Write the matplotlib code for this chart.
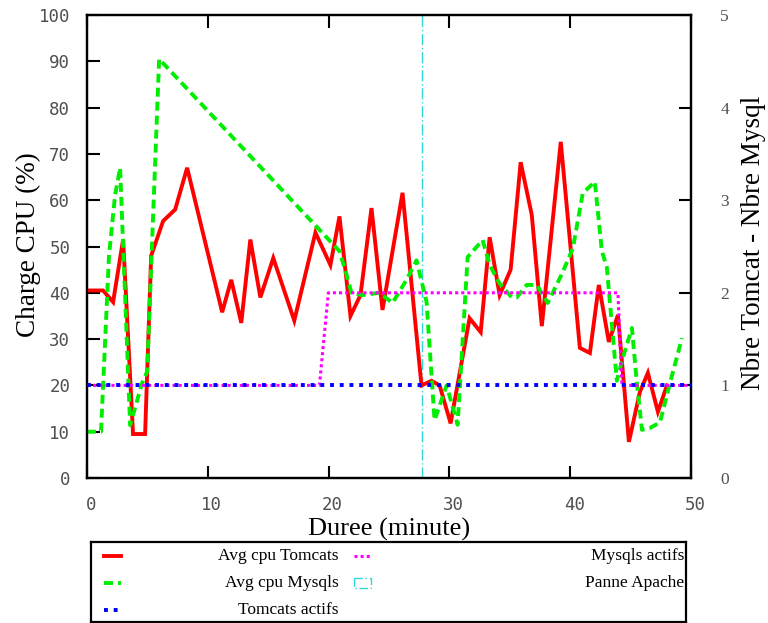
import matplotlib
matplotlib.use("Agg")
import matplotlib.pyplot as plt
import matplotlib.transforms as mtransforms
from matplotlib.lines import Line2D
from matplotlib.patches import Rectangle

# ---- data ----
tomcat_x = [0, 1.33, 2.16, 2.99, 3.81, 4.81, 5.31, 6.30, 7.30, 8.29, 11.19, 11.94, 12.77,
            13.52, 14.35, 15.42, 17.16, 18.91, 20.15, 20.90, 21.81, 22.64, 23.55, 24.46,
            26.12, 27.69, 28.52, 29.19, 30.10, 31.67, 32.59, 33.33, 34.16, 35.07, 35.90,
            36.82, 37.65, 39.22, 40.80, 41.63, 42.37, 43.20, 43.95, 44.86, 45.77, 46.43,
            47.26, 48.01]
tomcat_cpu = [40.5, 40.5, 38, 51.5, 9.5, 9.5, 48, 55.5, 58, 67, 35.8, 42.8, 33.5,
              51.5, 39, 47.5, 34, 53, 46, 56.5, 35, 39.5, 58.3, 36.3,
              61.6, 20, 21, 20, 11.8, 34.5, 31.5, 52, 39.5, 45, 68.2,
              56.8, 32.8, 72.6, 28.1, 27, 41.7, 29.4, 35.2, 7.8, 18.6, 22.7,
              14.3, 20]

mysql_x = [0, 1.16, 1.82, 2.32, 2.74, 3.57, 4.56, 4.98, 5.97, 20.90, 21.48, 21.89, 22.80,
           24.21, 25.29, 26.45, 27.28, 28.11, 28.77, 29.77, 30.68, 31.51, 32.75, 33.33,
           34.16, 35.16, 35.57, 36.40, 37.23, 38.14, 39.30, 40.22, 41.04, 42.04, 42.62,
           43.03, 43.86, 44.36, 45.11, 45.52, 45.94, 46.60, 47.43, 48.26, 49.25]
mysql_cpu = [10, 10, 48, 61, 67, 11.4, 20.5, 23, 90.5, 49, 44, 40, 39.5,
             40, 37.8, 42.8, 47, 38, 12.5, 20, 11.5, 47.7, 51.4, 46,
             42, 39, 39, 41.7, 41.7, 37.8, 44, 49.6, 61.5, 64, 49,
             45.6, 21, 26, 32.4, 20.5, 10.4, 10.8, 12, 20.5, 30.2]

tomcats_x = [0, 50]
tomcats_actifs = [1, 1]

mysqls_x = [0, 19.24, 19.98, 43.95, 44.28, 50]
mysqls_actifs = [1, 1, 2, 2, 1, 1]

panne_x = 27.75

labels = ["Avg cpu Tomcats", "Avg cpu Mysqls", "Tomcats actifs",
          "Mysqls actifs", "Panne Apache"]

# ---- figure ----
W, H = 768, 623
fig = plt.figure(figsize=(W / 100, H / 100), dpi=100)
L, R, T, B = 87, 691, 15, 478
ax = fig.add_axes([L / W, 1 - B / H, (R - L) / W, (B - T) / H])
ax2 = ax.twinx()

RED = "#ff0000"
GREEN = "#00ee00"
BLUE = "#0000ff"
MAG = "#ff00ff"
CYAN = "#30d8d8"

ax.plot(tomcat_x, tomcat_cpu, color=RED, lw=2.8, solid_joinstyle="miter", zorder=3)
ax.plot(mysql_x, mysql_cpu, color=GREEN, lw=2.8, dashes=(2.3, 1.3), dash_capstyle="butt", zorder=3)
ax2.plot(mysqls_x, mysqls_actifs, color=MAG, lw=2.2, dashes=(1, 1), zorder=3)
ax2.plot(tomcats_x, tomcats_actifs, color=BLUE, lw=2.8, dashes=(1, 1.5), zorder=3)
ax.axvline(panne_x, color=CYAN, lw=1.0, dashes=(8, 2, 1, 2), zorder=2)

ax.set_xlim(0, 50)
ax.set_ylim(0, 100)
ax2.set_ylim(0, 5)
ax.set_xticks(range(0, 51, 10))
ax.set_yticks(range(0, 101, 10))
ax2.set_yticks(range(0, 6))

mono = "DejaVu Sans Mono"
serif = "Liberation Serif"
tick_col = "#505050"
ax.tick_params(axis="x", direction="in", length=9, width=1.5, top=True, bottom=True,
               labelsize=12.5, pad=13, labelcolor=tick_col)
ax.tick_params(axis="y", direction="in", length=9, width=1.5, left=True, right=False,
               labelsize=12.5, pad=12, labelcolor=tick_col)
ax2.tick_params(axis="y", direction="in", length=9, width=1.5, right=True, left=False,
                labelsize=12.5, pad=21, labelcolor=tick_col)
shift = mtransforms.ScaledTranslation(4 / 100, 0, fig.dpi_scale_trans)
for t in ax.get_xticklabels():
    t.set_fontfamily(mono)
    t.set_transform(t.get_transform() + shift)
for t in ax.get_yticklabels():
    t.set_fontfamily(mono)
for t in ax2.get_yticklabels():
    t.set_fontfamily(serif)
for a in (ax, ax2):
    for s in a.spines.values():
        s.set_linewidth(1.6)

fig.text(28 / W, 1 - 245 / H, "Charge CPU (%)", rotation=90, ha="center", va="center",
         fontfamily=serif, fontsize=19.5)
fig.text(389 / W, 1 - 529 / H, "Duree (minute)", ha="center", va="center",
         fontfamily=serif, fontsize=19)
fig.text(754 / W, 1 - 243 / H, "Nbre Tomcat - Nbre Mysql", rotation=90, ha="center",
         va="center", fontfamily=serif, fontsize=19.5)

# ---- legend box ----
lx0, lx1, ly0, ly1 = 91, 686, 542, 622
lax = fig.add_axes([lx0 / W, 1 - ly1 / H, (lx1 - lx0) / W, (ly1 - ly0) / H])
lax.set_xlim(0, lx1 - lx0)
lax.set_ylim(ly1 - ly0, 0)
lax.set_xticks([])
lax.set_yticks([])
for s in lax.spines.values():
    s.set_linewidth(1.6)

rows = [14, 41, 68]
c1s, c1t = 13, 248
c2s, c2t = 263, 593
lax.add_line(Line2D([c1s, c1s + 17], [rows[0]] * 2, color=RED, lw=2.8))
lax.add_line(Line2D([c1s, c1s + 17], [rows[1]] * 2, color=GREEN, lw=2.8, dashes=(2.3, 1.3)))
lax.add_line(Line2D([c1s, c1s + 17], [rows[2]] * 2, color=BLUE, lw=2.8, dashes=(1, 1.5)))
lax.add_line(Line2D([c2s, c2s + 17], [rows[0]] * 2, color=MAG, lw=2.2, dashes=(1, 1)))
lax.add_patch(Rectangle((c2s, rows[1] - 5), 17, 10, fill=False, edgecolor=CYAN, lw=1.0,
                        linestyle=(0, (6, 2, 1, 2))))
for i, (x, y) in enumerate([(c1t, rows[0]), (c1t, rows[1]), (c1t, rows[2]),
                            (c2t, rows[0]), (c2t, rows[1])]):
    lax.text(x, y, labels[i], ha="right", va="center", fontfamily=serif, fontsize=12.5)

fig.savefig("out.png", dpi=100)
